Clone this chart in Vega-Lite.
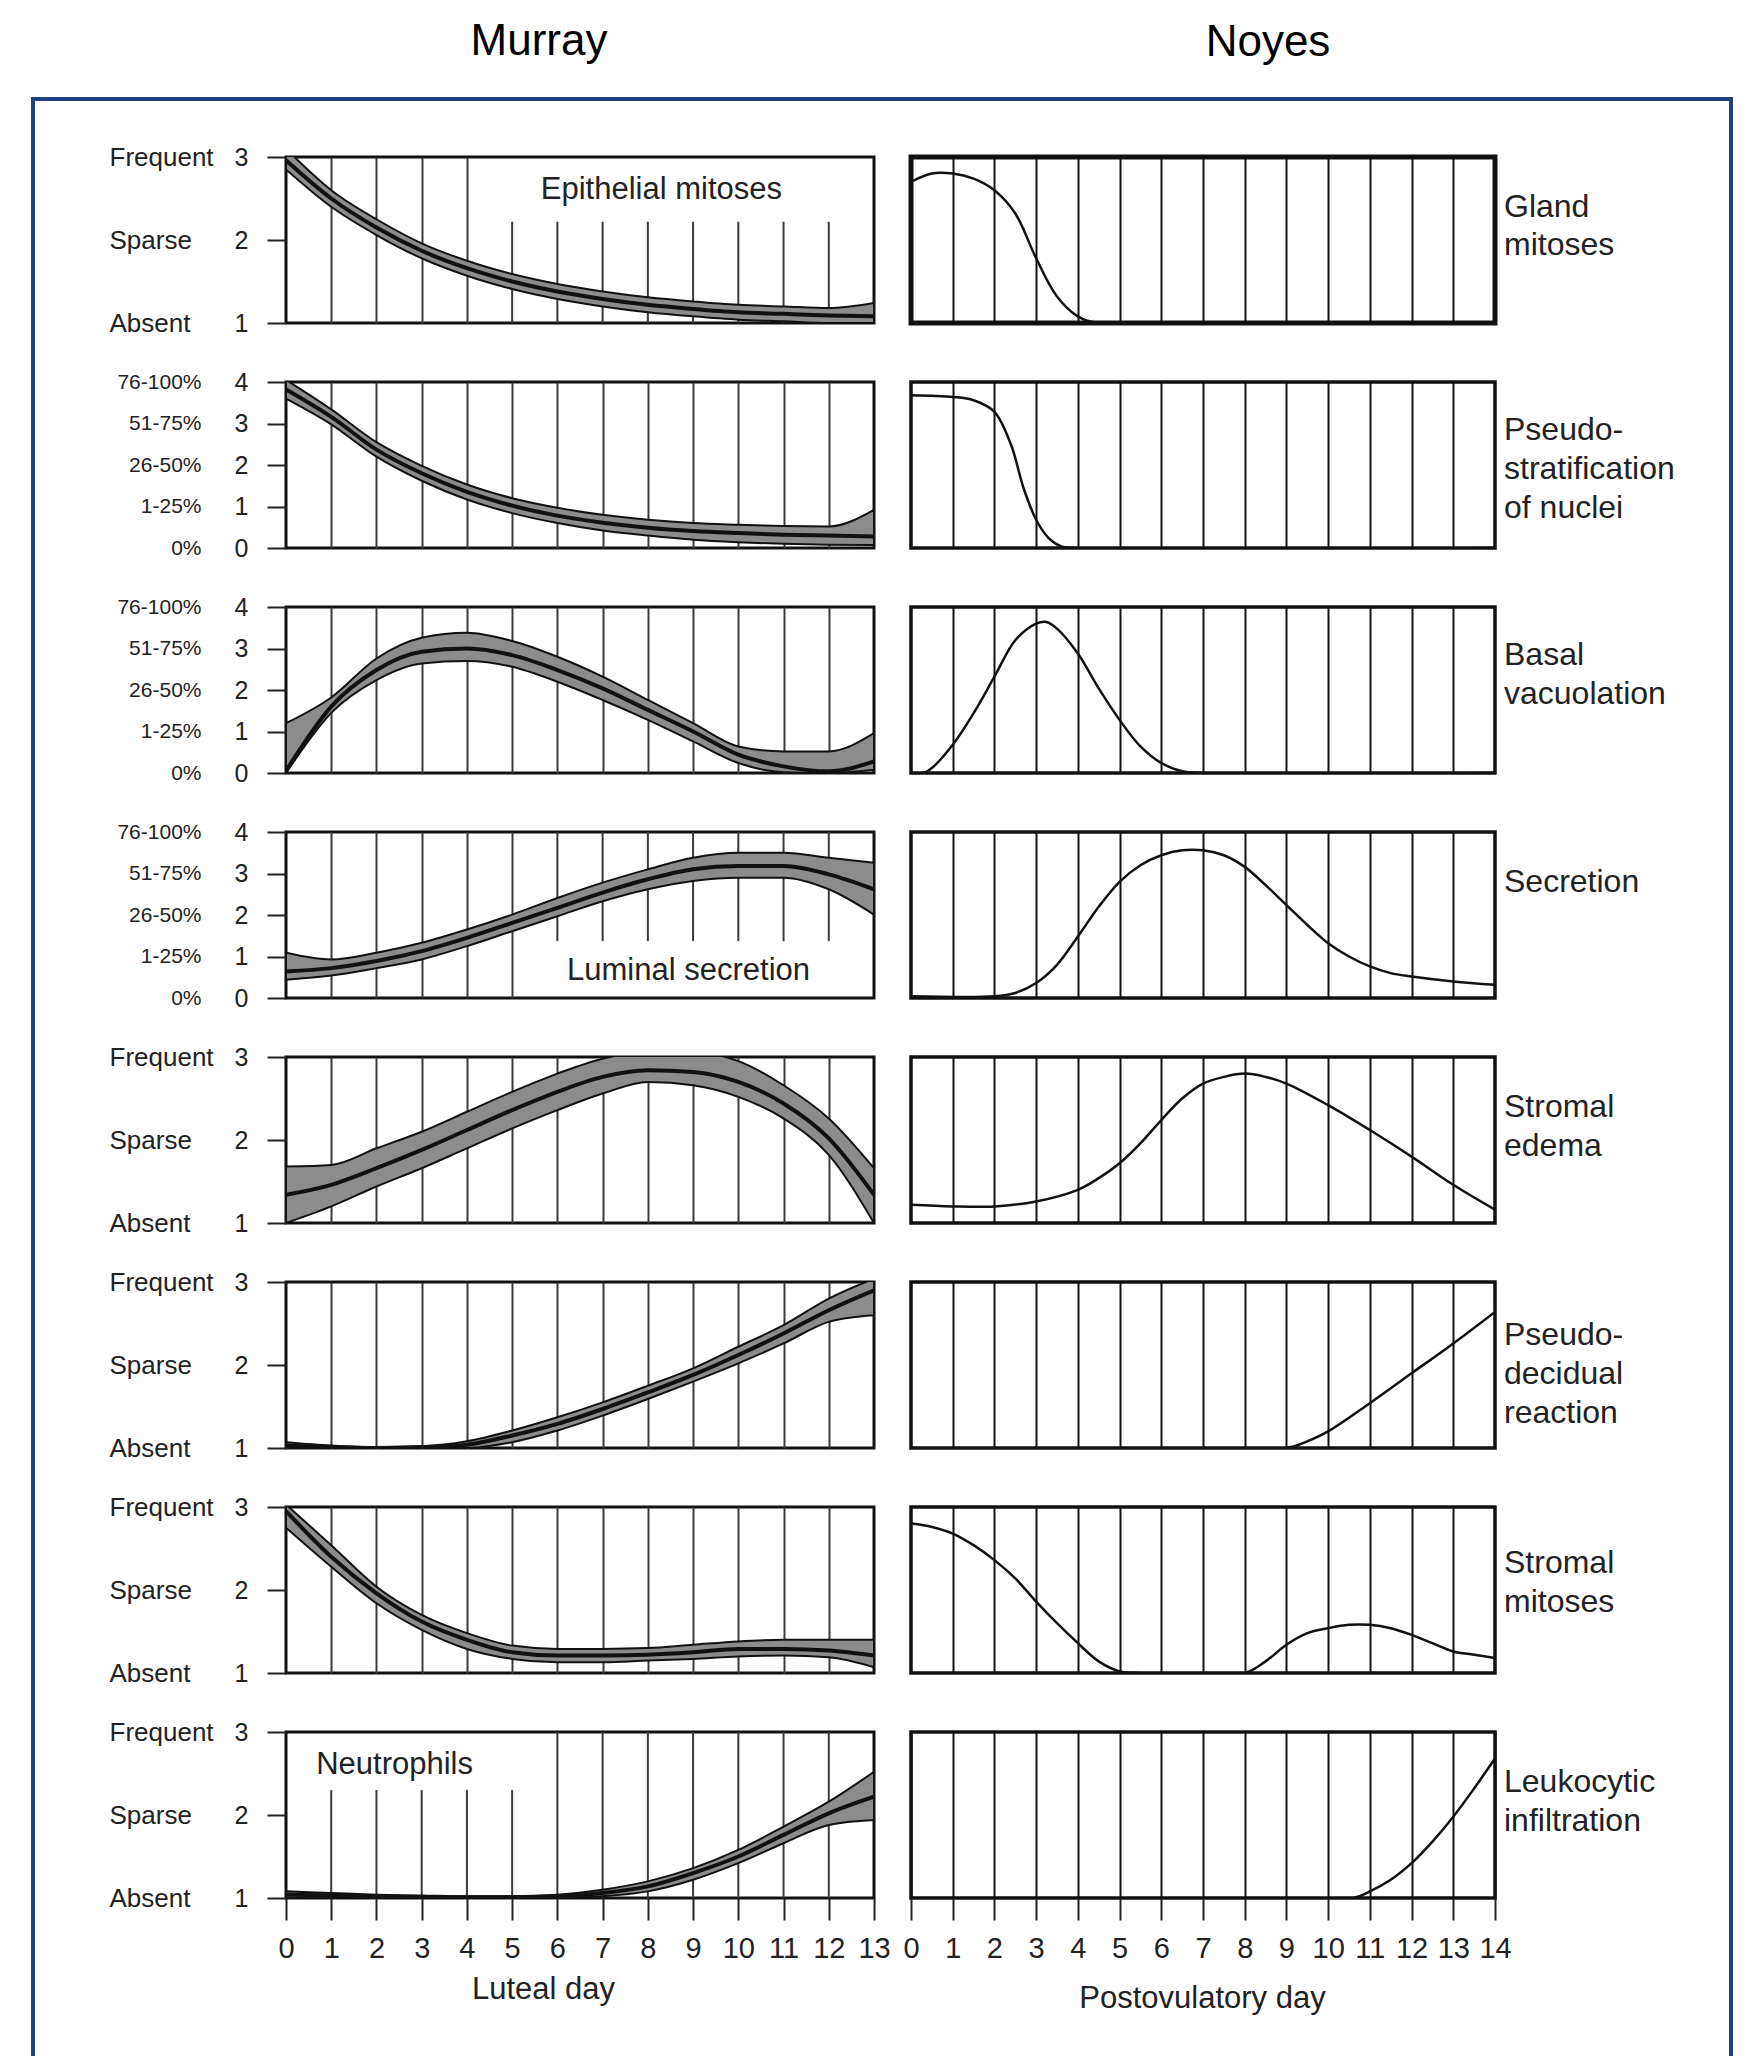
{
"$schema": "https://vega.github.io/schema/vega-lite/v6.json",
"background": "white",
"padding": {"left": 31, "top": 18, "right": 0, "bottom": 0},
"config": {"font": "Liberation Sans", "view": {"stroke": null}, "axis": {"labelFont": "Liberation Sans", "titleFont": "Liberation Sans"}},
"datasets": {
"murray": [
{"p":1,"d":0,"lo":2.85,"m":2.96,"hi":3.1},{"p":1,"d":1,"lo":2.4,"m":2.5,"hi":2.6},{"p":1,"d":2,"lo":2.06,"m":2.15,"hi":2.25},{"p":1,"d":3,"lo":1.78,"m":1.87,"hi":1.96},{"p":1,"d":4,"lo":1.57,"m":1.66,"hi":1.75},{"p":1,"d":5,"lo":1.41,"m":1.5,"hi":1.59},{"p":1,"d":6,"lo":1.29,"m":1.38,"hi":1.47},{"p":1,"d":7,"lo":1.2,"m":1.29,"hi":1.38},{"p":1,"d":8,"lo":1.13,"m":1.22,"hi":1.31},{"p":1,"d":9,"lo":1.08,"m":1.17,"hi":1.26},{"p":1,"d":10,"lo":1.04,"m":1.13,"hi":1.22},{"p":1,"d":11,"lo":1.02,"m":1.11,"hi":1.2},{"p":1,"d":12,"lo":1.0,"m":1.09,"hi":1.18},{"p":1,"d":13,"lo":1.0,"m":1.08,"hi":1.24},
{"p":2,"d":0,"lo":3.6,"m":3.82,"hi":4.05},{"p":2,"d":1,"lo":2.98,"m":3.16,"hi":3.34},{"p":2,"d":2,"lo":2.2,"m":2.37,"hi":2.55},{"p":2,"d":3,"lo":1.62,"m":1.8,"hi":1.98},{"p":2,"d":4,"lo":1.17,"m":1.35,"hi":1.53},{"p":2,"d":5,"lo":0.84,"m":1.02,"hi":1.2},{"p":2,"d":6,"lo":0.6,"m":0.78,"hi":0.97},{"p":2,"d":7,"lo":0.42,"m":0.61,"hi":0.8},{"p":2,"d":8,"lo":0.3,"m":0.49,"hi":0.68},{"p":2,"d":9,"lo":0.2,"m":0.41,"hi":0.6},{"p":2,"d":10,"lo":0.14,"m":0.36,"hi":0.56},{"p":2,"d":11,"lo":0.1,"m":0.32,"hi":0.53},{"p":2,"d":12,"lo":0.08,"m":0.3,"hi":0.52},{"p":2,"d":13,"lo":0.07,"m":0.28,"hi":0.92},
{"p":3,"d":0,"lo":0.0,"m":0.05,"hi":1.2},{"p":3,"d":1,"lo":1.45,"m":1.6,"hi":1.82},{"p":3,"d":2,"lo":2.24,"m":2.48,"hi":2.76},{"p":3,"d":3,"lo":2.64,"m":2.92,"hi":3.26},{"p":3,"d":4,"lo":2.7,"m":3.0,"hi":3.38},{"p":3,"d":5,"lo":2.56,"m":2.84,"hi":3.18},{"p":3,"d":6,"lo":2.2,"m":2.48,"hi":2.8},{"p":3,"d":7,"lo":1.76,"m":2.04,"hi":2.32},{"p":3,"d":8,"lo":1.28,"m":1.52,"hi":1.76},{"p":3,"d":9,"lo":0.76,"m":1.0,"hi":1.2},{"p":3,"d":10,"lo":0.24,"m":0.44,"hi":0.64},{"p":3,"d":11,"lo":0.02,"m":0.16,"hi":0.52},{"p":3,"d":12,"lo":0.0,"m":0.04,"hi":0.52},{"p":3,"d":13,"lo":0.08,"m":0.28,"hi":0.96},
{"p":4,"d":0,"lo":0.44,"m":0.64,"hi":1.09},{"p":4,"d":1,"lo":0.54,"m":0.72,"hi":0.93},{"p":4,"d":2,"lo":0.72,"m":0.89,"hi":1.09},{"p":4,"d":3,"lo":0.93,"m":1.13,"hi":1.33},{"p":4,"d":4,"lo":1.25,"m":1.45,"hi":1.65},{"p":4,"d":5,"lo":1.61,"m":1.81,"hi":2.01},{"p":4,"d":6,"lo":1.97,"m":2.17,"hi":2.41},{"p":4,"d":7,"lo":2.33,"m":2.54,"hi":2.78},{"p":4,"d":8,"lo":2.62,"m":2.86,"hi":3.1},{"p":4,"d":9,"lo":2.82,"m":3.1,"hi":3.38},{"p":4,"d":10,"lo":2.9,"m":3.18,"hi":3.5},{"p":4,"d":11,"lo":2.9,"m":3.18,"hi":3.5},{"p":4,"d":12,"lo":2.62,"m":2.98,"hi":3.38},{"p":4,"d":13,"lo":2.01,"m":2.62,"hi":3.26},
{"p":5,"d":0,"lo":1.0,"m":1.34,"hi":1.68},{"p":5,"d":1,"lo":1.2,"m":1.46,"hi":1.7},{"p":5,"d":2,"lo":1.44,"m":1.66,"hi":1.9},{"p":5,"d":3,"lo":1.66,"m":1.88,"hi":2.1},{"p":5,"d":4,"lo":1.9,"m":2.12,"hi":2.34},{"p":5,"d":5,"lo":2.14,"m":2.36,"hi":2.58},{"p":5,"d":6,"lo":2.36,"m":2.58,"hi":2.8},{"p":5,"d":7,"lo":2.56,"m":2.76,"hi":2.98},{"p":5,"d":8,"lo":2.7,"m":2.84,"hi":3.06},{"p":5,"d":9,"lo":2.66,"m":2.82,"hi":3.06},{"p":5,"d":10,"lo":2.52,"m":2.7,"hi":2.95},{"p":5,"d":11,"lo":2.26,"m":2.44,"hi":2.66},{"p":5,"d":12,"lo":1.82,"m":2.02,"hi":2.26},{"p":5,"d":13,"lo":1.0,"m":1.34,"hi":1.66},
{"p":6,"d":0,"lo":1.0,"m":1.03,"hi":1.07},{"p":6,"d":1,"lo":1.0,"m":1.01,"hi":1.03},{"p":6,"d":2,"lo":1.0,"m":1.0,"hi":1.01},{"p":6,"d":3,"lo":1.0,"m":1.01,"hi":1.02},{"p":6,"d":4,"lo":1.0,"m":1.04,"hi":1.08},{"p":6,"d":5,"lo":1.07,"m":1.15,"hi":1.21},{"p":6,"d":6,"lo":1.21,"m":1.29,"hi":1.37},{"p":6,"d":7,"lo":1.39,"m":1.47,"hi":1.55},{"p":6,"d":8,"lo":1.59,"m":1.67,"hi":1.75},{"p":6,"d":9,"lo":1.8,"m":1.88,"hi":1.96},{"p":6,"d":10,"lo":2.02,"m":2.12,"hi":2.22},{"p":6,"d":11,"lo":2.26,"m":2.38,"hi":2.48},{"p":6,"d":12,"lo":2.52,"m":2.66,"hi":2.8},{"p":6,"d":13,"lo":2.6,"m":2.9,"hi":3.04},
{"p":7,"d":0,"lo":2.75,"m":2.95,"hi":3.03},{"p":7,"d":1,"lo":2.28,"m":2.4,"hi":2.54},{"p":7,"d":2,"lo":1.84,"m":1.96,"hi":2.04},{"p":7,"d":3,"lo":1.52,"m":1.62,"hi":1.7},{"p":7,"d":4,"lo":1.29,"m":1.4,"hi":1.48},{"p":7,"d":5,"lo":1.17,"m":1.25,"hi":1.33},{"p":7,"d":6,"lo":1.13,"m":1.21,"hi":1.29},{"p":7,"d":7,"lo":1.13,"m":1.21,"hi":1.29},{"p":7,"d":8,"lo":1.15,"m":1.22,"hi":1.3},{"p":7,"d":9,"lo":1.17,"m":1.25,"hi":1.34},{"p":7,"d":10,"lo":1.2,"m":1.29,"hi":1.38},{"p":7,"d":11,"lo":1.21,"m":1.29,"hi":1.4},{"p":7,"d":12,"lo":1.19,"m":1.27,"hi":1.4},{"p":7,"d":13,"lo":1.07,"m":1.21,"hi":1.4},
{"p":8,"d":0,"lo":1.0,"m":1.04,"hi":1.08},{"p":8,"d":1,"lo":1.0,"m":1.03,"hi":1.06},{"p":8,"d":2,"lo":1.0,"m":1.02,"hi":1.04},{"p":8,"d":3,"lo":1.0,"m":1.01,"hi":1.03},{"p":8,"d":4,"lo":1.0,"m":1.01,"hi":1.02},{"p":8,"d":5,"lo":1.0,"m":1.01,"hi":1.02},{"p":8,"d":6,"lo":1.0,"m":1.02,"hi":1.04},{"p":8,"d":7,"lo":1.02,"m":1.06,"hi":1.1},{"p":8,"d":8,"lo":1.08,"m":1.14,"hi":1.2},{"p":8,"d":9,"lo":1.22,"m":1.3,"hi":1.36},{"p":8,"d":10,"lo":1.42,"m":1.5,"hi":1.58},{"p":8,"d":11,"lo":1.66,"m":1.76,"hi":1.86},{"p":8,"d":12,"lo":1.88,"m":2.02,"hi":2.16},{"p":8,"d":13,"lo":1.94,"m":2.22,"hi":2.52}
],
"noyes": [
{"p":1,"d":0,"v":0.85},{"p":1,"d":0.5,"v":0.9},{"p":1,"d":1,"v":0.9},{"p":1,"d":1.5,"v":0.87},{"p":1,"d":2,"v":0.8},{"p":1,"d":2.5,"v":0.66},{"p":1,"d":3,"v":0.39},{"p":1,"d":3.5,"v":0.16},{"p":1,"d":4,"v":0.04},{"p":1,"d":4.5,"v":0},{"p":1,"d":14,"v":0},
{"p":2,"d":0,"v":0.92},{"p":2,"d":1,"v":0.91},{"p":2,"d":1.5,"v":0.89},{"p":2,"d":2,"v":0.82},{"p":2,"d":2.4,"v":0.62},{"p":2,"d":2.7,"v":0.36},{"p":2,"d":3,"v":0.17},{"p":2,"d":3.3,"v":0.06},{"p":2,"d":3.6,"v":0.01},{"p":2,"d":4,"v":0},{"p":2,"d":14,"v":0},
{"p":3,"d":0,"v":0},{"p":3,"d":0.3,"v":0},{"p":3,"d":0.5,"v":0.03},{"p":3,"d":1,"v":0.17},{"p":3,"d":1.5,"v":0.36},{"p":3,"d":2,"v":0.58},{"p":3,"d":2.5,"v":0.8},{"p":3,"d":3,"v":0.9},{"p":3,"d":3.25,"v":0.91},{"p":3,"d":3.5,"v":0.87},{"p":3,"d":4,"v":0.72},{"p":3,"d":4.5,"v":0.51},{"p":3,"d":5,"v":0.32},{"p":3,"d":5.5,"v":0.16},{"p":3,"d":6,"v":0.06},{"p":3,"d":6.5,"v":0.01},{"p":3,"d":7,"v":0},{"p":3,"d":14,"v":0},
{"p":4,"d":0,"v":0.01},{"p":4,"d":2,"v":0.01},{"p":4,"d":2.5,"v":0.03},{"p":4,"d":3,"v":0.09},{"p":4,"d":3.5,"v":0.2},{"p":4,"d":4,"v":0.37},{"p":4,"d":4.5,"v":0.55},{"p":4,"d":5,"v":0.7},{"p":4,"d":5.5,"v":0.8},{"p":4,"d":6,"v":0.86},{"p":4,"d":6.5,"v":0.89},{"p":4,"d":7,"v":0.89},{"p":4,"d":7.5,"v":0.86},{"p":4,"d":8,"v":0.79},{"p":4,"d":8.5,"v":0.68},{"p":4,"d":9,"v":0.56},{"p":4,"d":9.5,"v":0.44},{"p":4,"d":10,"v":0.33},{"p":4,"d":10.5,"v":0.25},{"p":4,"d":11,"v":0.19},{"p":4,"d":11.5,"v":0.15},{"p":4,"d":12,"v":0.13},{"p":4,"d":13,"v":0.1},{"p":4,"d":14,"v":0.08},
{"p":5,"d":0,"v":0.11},{"p":5,"d":1,"v":0.1},{"p":5,"d":2,"v":0.1},{"p":5,"d":3,"v":0.13},{"p":5,"d":4,"v":0.2},{"p":5,"d":4.5,"v":0.27},{"p":5,"d":5,"v":0.36},{"p":5,"d":5.5,"v":0.48},{"p":5,"d":6,"v":0.62},{"p":5,"d":6.5,"v":0.75},{"p":5,"d":7,"v":0.84},{"p":5,"d":7.5,"v":0.88},{"p":5,"d":8,"v":0.9},{"p":5,"d":8.5,"v":0.88},{"p":5,"d":9,"v":0.84},{"p":5,"d":10,"v":0.71},{"p":5,"d":11,"v":0.56},{"p":5,"d":12,"v":0.4},{"p":5,"d":13,"v":0.23},{"p":5,"d":14,"v":0.08},
{"p":6,"d":0,"v":0},{"p":6,"d":9,"v":0},{"p":6,"d":9.5,"v":0.04},{"p":6,"d":10,"v":0.1},{"p":6,"d":11,"v":0.27},{"p":6,"d":12,"v":0.45},{"p":6,"d":13,"v":0.63},{"p":6,"d":14,"v":0.82},
{"p":7,"d":0,"v":0.9},{"p":7,"d":0.5,"v":0.88},{"p":7,"d":1,"v":0.84},{"p":7,"d":1.5,"v":0.77},{"p":7,"d":2,"v":0.68},{"p":7,"d":2.5,"v":0.57},{"p":7,"d":3,"v":0.43},{"p":7,"d":3.5,"v":0.3},{"p":7,"d":4,"v":0.18},{"p":7,"d":4.5,"v":0.07},{"p":7,"d":5,"v":0.01},{"p":7,"d":5.5,"v":0},{"p":7,"d":8,"v":0},{"p":7,"d":8.5,"v":0.07},{"p":7,"d":9,"v":0.17},{"p":7,"d":9.5,"v":0.24},{"p":7,"d":10,"v":0.27},{"p":7,"d":10.5,"v":0.29},{"p":7,"d":11,"v":0.29},{"p":7,"d":11.5,"v":0.27},{"p":7,"d":12,"v":0.23},{"p":7,"d":12.5,"v":0.18},{"p":7,"d":13,"v":0.13},{"p":7,"d":13.5,"v":0.11},{"p":7,"d":14,"v":0.09},
{"p":8,"d":0,"v":0},{"p":8,"d":10.6,"v":0},{"p":8,"d":11,"v":0.04},{"p":8,"d":11.5,"v":0.11},{"p":8,"d":12,"v":0.21},{"p":8,"d":12.5,"v":0.34},{"p":8,"d":13,"v":0.49},{"p":8,"d":13.5,"v":0.66},{"p":8,"d":14,"v":0.84}
],
"g1": [{"d":5},{"d":6},{"d":7},{"d":8},{"d":9},{"d":10},{"d":11},{"d":12}],
"g4": [{"d":6},{"d":7},{"d":8},{"d":9},{"d":10},{"d":11},{"d":12}],
"g8a": [{"d":1},{"d":2},{"d":3},{"d":4},{"d":5}],
"g8b": [{"d":6},{"d":7},{"d":8},{"d":9},{"d":10},{"d":11},{"d":12}]
},
"bounds": "flush",
"spacing": 0,
"vconcat": [
{"width": 1702, "height": 4, "view": {"stroke": null, "fill": "#1f3f7f"}, "data": {"values": [{}]}, "mark": {"type": "text"}, "encoding": {"text": {"value": ""}}},
{"bounds": "flush", "spacing": 251, "hconcat": [
{"width": 4, "height": 1966, "view": {"stroke": null, "fill": "#1f3f7f"}, "data": {"values": [{}]}, "mark": {"type": "text"}, "encoding": {"text": {"value": ""}}},
{"bounds": "flush", "spacing": 1443, "hconcat": [
{"bounds": "flush", "spacing": 55, "vconcat": [
{"width": 1, "height": 1, "view": {"stroke": null}, "data": {"values": [{}]}, "mark": {"type": "text"}, "encoding": {"text": {"value": ""}}},
{"bounds": "flush", "spacing": 625, "hconcat": [
{"bounds": "flush", "spacing": 59, "vconcat": [
{"width": 588, "height": 166, "view": {"stroke": "#111", "strokeWidth": 3},
 "title": {"text": "Murray", "fontSize": 44, "fontWeight": "normal", "color": "#000", "anchor": "middle", "frame": "group", "dx": -41, "offset": 45, "baseline": "alphabetic"},
 "layer": [
  {"data": {"name": "g1"}, "mark": {"type": "rule", "color": "#3a3a3a", "strokeWidth": 2}, "encoding": {"x": {"field": "d", "type": "quantitative", "axis": null}, "y": {"datum": 1, "type": "quantitative", "axis": null}, "y2": {"datum": 2.22}}},
  {"data": {"name": "murray"}, "transform": [{"filter": "datum.p == 1"}], "mark": {"type": "area", "interpolate": "monotone", "fill": "#8c8c8c", "stroke": "#111", "strokeWidth": 2, "clip": true},
   "encoding": {"x": {"field": "d", "type": "quantitative", "scale": {"domain": [0, 13], "nice": false, "zero": false}, "axis": {"values": [1,2,3,4], "grid": true, "gridColor": "#3a3a3a", "gridWidth": 2, "labels": false, "ticks": false, "domain": false, "title": null}},
    "y": {"field": "lo", "type": "quantitative", "scale": {"domain": [1, 3], "nice": false, "zero": false}, "axis": {"orient": "left", "values": [1,2,3], "labelExpr": "'' + datum.value", "tickSize": 19, "tickWidth": 2, "tickColor": "#222", "domain": false, "grid": false, "labelPadding": 19, "labelFontSize": 25, "labelColor": "#222", "labelOverlap": false, "title": null}},
    "y2": {"field": "hi"}}},
  {"data": {"name": "murray"}, "transform": [{"filter": "datum.p == 1"}], "mark": {"type": "line", "interpolate": "monotone", "color": "#111", "strokeWidth": 4, "clip": true},
   "encoding": {"x": {"field": "d", "type": "quantitative", "axis": null}, "y": {"field": "m", "type": "quantitative", "axis": {"orient": "left", "values": [1,2,3], "labelExpr": "datum.value == 3 ? 'Frequent' : datum.value == 2 ? 'Sparse' : 'Absent'", "ticks": false, "tickSize": 0, "domain": false, "grid": false, "labelPadding": 177, "labelAlign": "left", "labelFontSize": 26, "labelColor": "#222", "labelOverlap": false, "title": null}}}},
  {"data": {"values": [{"t": "Epithelial mitoses"}]}, "mark": {"type": "text", "fontSize": 31, "align": "center", "baseline": "alphabetic", "color": "#222"}, "encoding": {"x": {"datum": 8.3, "type": "quantitative", "axis": null}, "y": {"datum": 2.5, "type": "quantitative", "axis": null}, "text": {"field": "t"}}}
 ],
 "resolve": {"axis": {"x": "independent", "y": "independent"}}},
{"width": 588, "height": 166, "view": {"stroke": "#111", "strokeWidth": 3},
 "layer": [
  {"data": {"name": "murray"}, "transform": [{"filter": "datum.p == 2"}], "mark": {"type": "area", "interpolate": "monotone", "fill": "#8c8c8c", "stroke": "#111", "strokeWidth": 2, "clip": true},
   "encoding": {"x": {"field": "d", "type": "quantitative", "scale": {"domain": [0, 13], "nice": false, "zero": false}, "axis": {"values": [1,2,3,4,5,6,7,8,9,10,11,12], "grid": true, "gridColor": "#3a3a3a", "gridWidth": 2, "labels": false, "ticks": false, "domain": false, "title": null}},
    "y": {"field": "lo", "type": "quantitative", "scale": {"domain": [0, 4], "nice": false, "zero": false}, "axis": {"orient": "left", "values": [0,1,2,3,4], "labelExpr": "'' + datum.value", "tickSize": 19, "tickWidth": 2, "tickColor": "#222", "domain": false, "grid": false, "labelPadding": 19, "labelFontSize": 25, "labelColor": "#222", "labelOverlap": false, "title": null}},
    "y2": {"field": "hi"}}},
  {"data": {"name": "murray"}, "transform": [{"filter": "datum.p == 2"}], "mark": {"type": "line", "interpolate": "monotone", "color": "#111", "strokeWidth": 4, "clip": true},
   "encoding": {"x": {"field": "d", "type": "quantitative", "axis": null}, "y": {"field": "m", "type": "quantitative", "axis": {"orient": "left", "values": [0,1,2,3,4], "labelExpr": "['0%','1-25%','26-50%','51-75%','76-100%'][datum.value]", "ticks": false, "tickSize": 0, "domain": false, "grid": false, "labelPadding": 85, "labelAlign": "right", "labelFontSize": 21, "labelColor": "#222", "labelOverlap": false, "title": null}}}}
 ],
 "resolve": {"axis": {"x": "independent", "y": "independent"}}},
{"width": 588, "height": 166, "view": {"stroke": "#111", "strokeWidth": 3},
 "layer": [
  {"data": {"name": "murray"}, "transform": [{"filter": "datum.p == 3"}], "mark": {"type": "area", "interpolate": "monotone", "fill": "#8c8c8c", "stroke": "#111", "strokeWidth": 2, "clip": true},
   "encoding": {"x": {"field": "d", "type": "quantitative", "scale": {"domain": [0, 13], "nice": false, "zero": false}, "axis": {"values": [1,2,3,4,5,6,7,8,9,10,11,12], "grid": true, "gridColor": "#3a3a3a", "gridWidth": 2, "labels": false, "ticks": false, "domain": false, "title": null}},
    "y": {"field": "lo", "type": "quantitative", "scale": {"domain": [0, 4], "nice": false, "zero": false}, "axis": {"orient": "left", "values": [0,1,2,3,4], "labelExpr": "'' + datum.value", "tickSize": 19, "tickWidth": 2, "tickColor": "#222", "domain": false, "grid": false, "labelPadding": 19, "labelFontSize": 25, "labelColor": "#222", "labelOverlap": false, "title": null}},
    "y2": {"field": "hi"}}},
  {"data": {"name": "murray"}, "transform": [{"filter": "datum.p == 3"}], "mark": {"type": "line", "interpolate": "monotone", "color": "#111", "strokeWidth": 4, "clip": true},
   "encoding": {"x": {"field": "d", "type": "quantitative", "axis": null}, "y": {"field": "m", "type": "quantitative", "axis": {"orient": "left", "values": [0,1,2,3,4], "labelExpr": "['0%','1-25%','26-50%','51-75%','76-100%'][datum.value]", "ticks": false, "tickSize": 0, "domain": false, "grid": false, "labelPadding": 85, "labelAlign": "right", "labelFontSize": 21, "labelColor": "#222", "labelOverlap": false, "title": null}}}}
 ],
 "resolve": {"axis": {"x": "independent", "y": "independent"}}},
{"width": 588, "height": 166, "view": {"stroke": "#111", "strokeWidth": 3},
 "layer": [
  {"data": {"name": "g4"}, "mark": {"type": "rule", "color": "#3a3a3a", "strokeWidth": 2}, "encoding": {"x": {"field": "d", "type": "quantitative", "axis": null}, "y": {"datum": 1.37, "type": "quantitative", "axis": null}, "y2": {"datum": 4}}},
  {"data": {"name": "murray"}, "transform": [{"filter": "datum.p == 4"}], "mark": {"type": "area", "interpolate": "monotone", "fill": "#8c8c8c", "stroke": "#111", "strokeWidth": 2, "clip": true},
   "encoding": {"x": {"field": "d", "type": "quantitative", "scale": {"domain": [0, 13], "nice": false, "zero": false}, "axis": {"values": [1,2,3,4,5], "grid": true, "gridColor": "#3a3a3a", "gridWidth": 2, "labels": false, "ticks": false, "domain": false, "title": null}},
    "y": {"field": "lo", "type": "quantitative", "scale": {"domain": [0, 4], "nice": false, "zero": false}, "axis": {"orient": "left", "values": [0,1,2,3,4], "labelExpr": "'' + datum.value", "tickSize": 19, "tickWidth": 2, "tickColor": "#222", "domain": false, "grid": false, "labelPadding": 19, "labelFontSize": 25, "labelColor": "#222", "labelOverlap": false, "title": null}},
    "y2": {"field": "hi"}}},
  {"data": {"name": "murray"}, "transform": [{"filter": "datum.p == 4"}], "mark": {"type": "line", "interpolate": "monotone", "color": "#111", "strokeWidth": 4, "clip": true},
   "encoding": {"x": {"field": "d", "type": "quantitative", "axis": null}, "y": {"field": "m", "type": "quantitative", "axis": {"orient": "left", "values": [0,1,2,3,4], "labelExpr": "['0%','1-25%','26-50%','51-75%','76-100%'][datum.value]", "ticks": false, "tickSize": 0, "domain": false, "grid": false, "labelPadding": 85, "labelAlign": "right", "labelFontSize": 21, "labelColor": "#222", "labelOverlap": false, "title": null}}}},
  {"data": {"values": [{"t": "Luminal secretion"}]}, "mark": {"type": "text", "fontSize": 31, "align": "center", "baseline": "alphabetic", "color": "#222"}, "encoding": {"x": {"datum": 8.9, "type": "quantitative", "axis": null}, "y": {"datum": 0.43, "type": "quantitative", "axis": null}, "text": {"field": "t"}}}
 ],
 "resolve": {"axis": {"x": "independent", "y": "independent"}}},
{"width": 588, "height": 166, "view": {"stroke": "#111", "strokeWidth": 3},
 "layer": [
  {"data": {"name": "murray"}, "transform": [{"filter": "datum.p == 5"}], "mark": {"type": "area", "interpolate": "monotone", "fill": "#8c8c8c", "stroke": "#111", "strokeWidth": 2, "clip": true},
   "encoding": {"x": {"field": "d", "type": "quantitative", "scale": {"domain": [0, 13], "nice": false, "zero": false}, "axis": {"values": [1,2,3,4,5,6,7,8,9,10,11,12], "grid": true, "gridColor": "#3a3a3a", "gridWidth": 2, "labels": false, "ticks": false, "domain": false, "title": null}},
    "y": {"field": "lo", "type": "quantitative", "scale": {"domain": [1, 3], "nice": false, "zero": false}, "axis": {"orient": "left", "values": [1,2,3], "labelExpr": "'' + datum.value", "tickSize": 19, "tickWidth": 2, "tickColor": "#222", "domain": false, "grid": false, "labelPadding": 19, "labelFontSize": 25, "labelColor": "#222", "labelOverlap": false, "title": null}},
    "y2": {"field": "hi"}}},
  {"data": {"name": "murray"}, "transform": [{"filter": "datum.p == 5"}], "mark": {"type": "line", "interpolate": "monotone", "color": "#111", "strokeWidth": 4, "clip": true},
   "encoding": {"x": {"field": "d", "type": "quantitative", "axis": null}, "y": {"field": "m", "type": "quantitative", "axis": {"orient": "left", "values": [1,2,3], "labelExpr": "datum.value == 3 ? 'Frequent' : datum.value == 2 ? 'Sparse' : 'Absent'", "ticks": false, "tickSize": 0, "domain": false, "grid": false, "labelPadding": 177, "labelAlign": "left", "labelFontSize": 26, "labelColor": "#222", "labelOverlap": false, "title": null}}}}
 ],
 "resolve": {"axis": {"x": "independent", "y": "independent"}}},
{"width": 588, "height": 166, "view": {"stroke": "#111", "strokeWidth": 3},
 "layer": [
  {"data": {"name": "murray"}, "transform": [{"filter": "datum.p == 6"}], "mark": {"type": "area", "interpolate": "monotone", "fill": "#8c8c8c", "stroke": "#111", "strokeWidth": 2, "clip": true},
   "encoding": {"x": {"field": "d", "type": "quantitative", "scale": {"domain": [0, 13], "nice": false, "zero": false}, "axis": {"values": [1,2,3,4,5,6,7,8,9,10,11,12], "grid": true, "gridColor": "#3a3a3a", "gridWidth": 2, "labels": false, "ticks": false, "domain": false, "title": null}},
    "y": {"field": "lo", "type": "quantitative", "scale": {"domain": [1, 3], "nice": false, "zero": false}, "axis": {"orient": "left", "values": [1,2,3], "labelExpr": "'' + datum.value", "tickSize": 19, "tickWidth": 2, "tickColor": "#222", "domain": false, "grid": false, "labelPadding": 19, "labelFontSize": 25, "labelColor": "#222", "labelOverlap": false, "title": null}},
    "y2": {"field": "hi"}}},
  {"data": {"name": "murray"}, "transform": [{"filter": "datum.p == 6"}], "mark": {"type": "line", "interpolate": "monotone", "color": "#111", "strokeWidth": 4, "clip": true},
   "encoding": {"x": {"field": "d", "type": "quantitative", "axis": null}, "y": {"field": "m", "type": "quantitative", "axis": {"orient": "left", "values": [1,2,3], "labelExpr": "datum.value == 3 ? 'Frequent' : datum.value == 2 ? 'Sparse' : 'Absent'", "ticks": false, "tickSize": 0, "domain": false, "grid": false, "labelPadding": 177, "labelAlign": "left", "labelFontSize": 26, "labelColor": "#222", "labelOverlap": false, "title": null}}}}
 ],
 "resolve": {"axis": {"x": "independent", "y": "independent"}}},
{"width": 588, "height": 166, "view": {"stroke": "#111", "strokeWidth": 3},
 "layer": [
  {"data": {"name": "murray"}, "transform": [{"filter": "datum.p == 7"}], "mark": {"type": "area", "interpolate": "monotone", "fill": "#8c8c8c", "stroke": "#111", "strokeWidth": 2, "clip": true},
   "encoding": {"x": {"field": "d", "type": "quantitative", "scale": {"domain": [0, 13], "nice": false, "zero": false}, "axis": {"values": [1,2,3,4,5,6,7,8,9,10,11,12], "grid": true, "gridColor": "#3a3a3a", "gridWidth": 2, "labels": false, "ticks": false, "domain": false, "title": null}},
    "y": {"field": "lo", "type": "quantitative", "scale": {"domain": [1, 3], "nice": false, "zero": false}, "axis": {"orient": "left", "values": [1,2,3], "labelExpr": "'' + datum.value", "tickSize": 19, "tickWidth": 2, "tickColor": "#222", "domain": false, "grid": false, "labelPadding": 19, "labelFontSize": 25, "labelColor": "#222", "labelOverlap": false, "title": null}},
    "y2": {"field": "hi"}}},
  {"data": {"name": "murray"}, "transform": [{"filter": "datum.p == 7"}], "mark": {"type": "line", "interpolate": "monotone", "color": "#111", "strokeWidth": 4, "clip": true},
   "encoding": {"x": {"field": "d", "type": "quantitative", "axis": null}, "y": {"field": "m", "type": "quantitative", "axis": {"orient": "left", "values": [1,2,3], "labelExpr": "datum.value == 3 ? 'Frequent' : datum.value == 2 ? 'Sparse' : 'Absent'", "ticks": false, "tickSize": 0, "domain": false, "grid": false, "labelPadding": 177, "labelAlign": "left", "labelFontSize": 26, "labelColor": "#222", "labelOverlap": false, "title": null}}}}
 ],
 "resolve": {"axis": {"x": "independent", "y": "independent"}}},
{"width": 588, "height": 166, "view": {"stroke": "#111", "strokeWidth": 3},
 "layer": [
  {"data": {"name": "g8a"}, "mark": {"type": "rule", "color": "#3a3a3a", "strokeWidth": 2}, "encoding": {"x": {"field": "d", "type": "quantitative", "axis": null}, "y": {"datum": 1, "type": "quantitative", "axis": null}, "y2": {"datum": 2.3}}},
  {"data": {"name": "g8b"}, "mark": {"type": "rule", "color": "#3a3a3a", "strokeWidth": 2}, "encoding": {"x": {"field": "d", "type": "quantitative", "axis": null}, "y": {"datum": 1, "type": "quantitative", "axis": null}, "y2": {"datum": 3}}},
  {"data": {"name": "murray"}, "transform": [{"filter": "datum.p == 8"}], "mark": {"type": "area", "interpolate": "monotone", "fill": "#8c8c8c", "stroke": "#111", "strokeWidth": 2, "clip": true},
   "encoding": {"x": {"field": "d", "type": "quantitative", "scale": {"domain": [0, 13], "nice": false, "zero": false}, "axis": {"orient": "bottom", "values": [0,1,2,3,4,5,6,7,8,9,10,11,12,13], "labelExpr": "'' + datum.value", "grid": false, "ticks": true, "tickSize": 22, "tickWidth": 2, "tickColor": "#222", "domain": false, "labelFontSize": 29, "labelPadding": 37, "labelBaseline": "alphabetic", "labelFlush": false, "labelOverlap": false, "labelColor": "#222", "title": "Luteal day", "titleFontSize": 31, "titleFontWeight": "normal", "titleColor": "#222", "titleX": 257, "titleY": 100, "titleBaseline": "alphabetic", "titleAlign": "center"}},
    "y": {"field": "lo", "type": "quantitative", "scale": {"domain": [1, 3], "nice": false, "zero": false}, "axis": {"orient": "left", "values": [1,2,3], "labelExpr": "'' + datum.value", "tickSize": 19, "tickWidth": 2, "tickColor": "#222", "domain": false, "grid": false, "labelPadding": 19, "labelFontSize": 25, "labelColor": "#222", "labelOverlap": false, "title": null}},
    "y2": {"field": "hi"}}},
  {"data": {"name": "murray"}, "transform": [{"filter": "datum.p == 8"}], "mark": {"type": "line", "interpolate": "monotone", "color": "#111", "strokeWidth": 4, "clip": true},
   "encoding": {"x": {"field": "d", "type": "quantitative", "axis": null}, "y": {"field": "m", "type": "quantitative", "axis": {"orient": "left", "values": [1,2,3], "labelExpr": "datum.value == 3 ? 'Frequent' : datum.value == 2 ? 'Sparse' : 'Absent'", "ticks": false, "tickSize": 0, "domain": false, "grid": false, "labelPadding": 177, "labelAlign": "left", "labelFontSize": 26, "labelColor": "#222", "labelOverlap": false, "title": null}}}},
  {"data": {"values": [{"t": "Neutrophils"}]}, "mark": {"type": "text", "fontSize": 31, "align": "center", "baseline": "alphabetic", "color": "#222"}, "encoding": {"x": {"datum": 2.4, "type": "quantitative", "axis": null}, "y": {"datum": 2.5, "type": "quantitative", "axis": null}, "text": {"field": "t"}}}
 ],
 "resolve": {"axis": {"x": "independent", "y": "independent"}}}
]},
{"bounds": "flush", "spacing": 59, "vconcat": [
{"width": 584, "height": 166, "view": {"stroke": "#111", "strokeWidth": 5},
 "title": {"text": "Noyes", "fontSize": 44, "fontWeight": "normal", "color": "#000", "anchor": "middle", "frame": "group", "dx": 65, "offset": 57, "baseline": "alphabetic"},
 "layer": [
  {"data": {"name": "noyes"}, "transform": [{"filter": "datum.p == 1"}], "mark": {"type": "line", "interpolate": "catmull-rom", "color": "#111", "strokeWidth": 2.5, "clip": true},
   "encoding": {"x": {"field": "d", "type": "quantitative", "scale": {"domain": [0, 14], "nice": false, "zero": false}, "axis": {"values": [1,2,3,4,5,6,7,8,9,10,11,12,13], "grid": true, "gridColor": "#111", "gridWidth": 2, "labels": false, "ticks": false, "domain": false, "title": null}},
    "y": {"field": "v", "type": "quantitative", "scale": {"domain": [0, 1], "nice": false, "zero": false}, "axis": null}}},
  {"data": {"values": [{"t": "Gland\nmitoses"}]}, "mark": {"type": "text", "align": "left", "baseline": "alphabetic", "lineBreak": "\n", "lineHeight": 38, "fontSize": 32, "dx": 9, "color": "#222"}, "encoding": {"x": {"datum": 14, "type": "quantitative", "axis": null}, "y": {"datum": 0.64, "type": "quantitative", "axis": null}, "text": {"field": "t"}}}
 ],
 "resolve": {"axis": {"x": "independent"}}},
{"width": 584, "height": 166, "view": {"stroke": "#111", "strokeWidth": 3.5},
 "layer": [
  {"data": {"name": "noyes"}, "transform": [{"filter": "datum.p == 2"}], "mark": {"type": "line", "interpolate": "catmull-rom", "color": "#111", "strokeWidth": 2.5, "clip": true},
   "encoding": {"x": {"field": "d", "type": "quantitative", "scale": {"domain": [0, 14], "nice": false, "zero": false}, "axis": {"values": [1,2,3,4,5,6,7,8,9,10,11,12,13], "grid": true, "gridColor": "#111", "gridWidth": 2, "labels": false, "ticks": false, "domain": false, "title": null}},
    "y": {"field": "v", "type": "quantitative", "scale": {"domain": [0, 1], "nice": false, "zero": false}, "axis": null}}},
  {"data": {"values": [{"t": "Pseudo-\nstratification\nof nuclei"}]}, "mark": {"type": "text", "align": "left", "baseline": "alphabetic", "lineBreak": "\n", "lineHeight": 39, "fontSize": 32, "dx": 9, "color": "#222"}, "encoding": {"x": {"datum": 14, "type": "quantitative", "axis": null}, "y": {"datum": 0.65, "type": "quantitative", "axis": null}, "text": {"field": "t"}}}
 ],
 "resolve": {"axis": {"x": "independent"}}},
{"width": 584, "height": 166, "view": {"stroke": "#111", "strokeWidth": 3.5},
 "layer": [
  {"data": {"name": "noyes"}, "transform": [{"filter": "datum.p == 3"}], "mark": {"type": "line", "interpolate": "catmull-rom", "color": "#111", "strokeWidth": 2.5, "clip": true},
   "encoding": {"x": {"field": "d", "type": "quantitative", "scale": {"domain": [0, 14], "nice": false, "zero": false}, "axis": {"values": [1,2,3,4,5,6,7,8,9,10,11,12,13], "grid": true, "gridColor": "#111", "gridWidth": 2, "labels": false, "ticks": false, "domain": false, "title": null}},
    "y": {"field": "v", "type": "quantitative", "scale": {"domain": [0, 1], "nice": false, "zero": false}, "axis": null}}},
  {"data": {"values": [{"t": "Basal\nvacuolation"}]}, "mark": {"type": "text", "align": "left", "baseline": "alphabetic", "lineBreak": "\n", "lineHeight": 39, "fontSize": 32, "dx": 9, "color": "#222"}, "encoding": {"x": {"datum": 14, "type": "quantitative", "axis": null}, "y": {"datum": 0.65, "type": "quantitative", "axis": null}, "text": {"field": "t"}}}
 ],
 "resolve": {"axis": {"x": "independent"}}},
{"width": 584, "height": 166, "view": {"stroke": "#111", "strokeWidth": 3.5},
 "layer": [
  {"data": {"name": "noyes"}, "transform": [{"filter": "datum.p == 4"}], "mark": {"type": "line", "interpolate": "catmull-rom", "color": "#111", "strokeWidth": 2.5, "clip": true},
   "encoding": {"x": {"field": "d", "type": "quantitative", "scale": {"domain": [0, 14], "nice": false, "zero": false}, "axis": {"values": [1,2,3,4,5,6,7,8,9,10,11,12,13], "grid": true, "gridColor": "#111", "gridWidth": 2, "labels": false, "ticks": false, "domain": false, "title": null}},
    "y": {"field": "v", "type": "quantitative", "scale": {"domain": [0, 1], "nice": false, "zero": false}, "axis": null}}},
  {"data": {"values": [{"t": "Secretion"}]}, "mark": {"type": "text", "align": "left", "baseline": "alphabetic", "lineBreak": "\n", "lineHeight": 39, "fontSize": 32, "dx": 9, "color": "#222"}, "encoding": {"x": {"datum": 14, "type": "quantitative", "axis": null}, "y": {"datum": 0.64, "type": "quantitative", "axis": null}, "text": {"field": "t"}}}
 ],
 "resolve": {"axis": {"x": "independent"}}},
{"width": 584, "height": 166, "view": {"stroke": "#111", "strokeWidth": 3.5},
 "layer": [
  {"data": {"name": "noyes"}, "transform": [{"filter": "datum.p == 5"}], "mark": {"type": "line", "interpolate": "catmull-rom", "color": "#111", "strokeWidth": 2.5, "clip": true},
   "encoding": {"x": {"field": "d", "type": "quantitative", "scale": {"domain": [0, 14], "nice": false, "zero": false}, "axis": {"values": [1,2,3,4,5,6,7,8,9,10,11,12,13], "grid": true, "gridColor": "#111", "gridWidth": 2, "labels": false, "ticks": false, "domain": false, "title": null}},
    "y": {"field": "v", "type": "quantitative", "scale": {"domain": [0, 1], "nice": false, "zero": false}, "axis": null}}},
  {"data": {"values": [{"t": "Stromal\nedema"}]}, "mark": {"type": "text", "align": "left", "baseline": "alphabetic", "lineBreak": "\n", "lineHeight": 39, "fontSize": 32, "dx": 9, "color": "#222"}, "encoding": {"x": {"datum": 14, "type": "quantitative", "axis": null}, "y": {"datum": 0.64, "type": "quantitative", "axis": null}, "text": {"field": "t"}}}
 ],
 "resolve": {"axis": {"x": "independent"}}},
{"width": 584, "height": 166, "view": {"stroke": "#111", "strokeWidth": 3.5},
 "layer": [
  {"data": {"name": "noyes"}, "transform": [{"filter": "datum.p == 6"}], "mark": {"type": "line", "interpolate": "catmull-rom", "color": "#111", "strokeWidth": 2.5, "clip": true},
   "encoding": {"x": {"field": "d", "type": "quantitative", "scale": {"domain": [0, 14], "nice": false, "zero": false}, "axis": {"values": [1,2,3,4,5,6,7,8,9,10,11,12,13], "grid": true, "gridColor": "#111", "gridWidth": 2, "labels": false, "ticks": false, "domain": false, "title": null}},
    "y": {"field": "v", "type": "quantitative", "scale": {"domain": [0, 1], "nice": false, "zero": false}, "axis": null}}},
  {"data": {"values": [{"t": "Pseudo-\ndecidual\nreaction"}]}, "mark": {"type": "text", "align": "left", "baseline": "alphabetic", "lineBreak": "\n", "lineHeight": 39, "fontSize": 32, "dx": 9, "color": "#222"}, "encoding": {"x": {"datum": 14, "type": "quantitative", "axis": null}, "y": {"datum": 0.62, "type": "quantitative", "axis": null}, "text": {"field": "t"}}}
 ],
 "resolve": {"axis": {"x": "independent"}}},
{"width": 584, "height": 166, "view": {"stroke": "#111", "strokeWidth": 3.5},
 "layer": [
  {"data": {"name": "noyes"}, "transform": [{"filter": "datum.p == 7"}], "mark": {"type": "line", "interpolate": "catmull-rom", "color": "#111", "strokeWidth": 2.5, "clip": true},
   "encoding": {"x": {"field": "d", "type": "quantitative", "scale": {"domain": [0, 14], "nice": false, "zero": false}, "axis": {"values": [1,2,3,4,5,6,7,8,9,10,11,12,13], "grid": true, "gridColor": "#111", "gridWidth": 2, "labels": false, "ticks": false, "domain": false, "title": null}},
    "y": {"field": "v", "type": "quantitative", "scale": {"domain": [0, 1], "nice": false, "zero": false}, "axis": null}}},
  {"data": {"values": [{"t": "Stromal\nmitoses"}]}, "mark": {"type": "text", "align": "left", "baseline": "alphabetic", "lineBreak": "\n", "lineHeight": 39, "fontSize": 32, "dx": 9, "color": "#222"}, "encoding": {"x": {"datum": 14, "type": "quantitative", "axis": null}, "y": {"datum": 0.6, "type": "quantitative", "axis": null}, "text": {"field": "t"}}}
 ],
 "resolve": {"axis": {"x": "independent"}}},
{"width": 584, "height": 166, "view": {"stroke": "#111", "strokeWidth": 3.5},
 "layer": [
  {"data": {"name": "noyes"}, "transform": [{"filter": "datum.p == 8"}], "mark": {"type": "line", "interpolate": "catmull-rom", "color": "#111", "strokeWidth": 2.5, "clip": true},
   "encoding": {"x": {"field": "d", "type": "quantitative", "scale": {"domain": [0, 14], "nice": false, "zero": false}, "axis": {"orient": "bottom", "values": [0,1,2,3,4,5,6,7,8,9,10,11,12,13,14], "labelExpr": "'' + datum.value", "grid": true, "gridColor": "#111", "gridWidth": 2, "ticks": true, "tickSize": 22, "tickWidth": 2, "tickColor": "#222", "domain": false, "labelFontSize": 29, "labelPadding": 37, "labelBaseline": "alphabetic", "labelFlush": false, "labelOverlap": false, "labelColor": "#222", "title": "Postovulatory day", "titleFontSize": 31, "titleFontWeight": "normal", "titleColor": "#222", "titleX": 291, "titleY": 109, "titleBaseline": "alphabetic", "titleAlign": "center"}},
    "y": {"field": "v", "type": "quantitative", "scale": {"domain": [0, 1], "nice": false, "zero": false}, "axis": null}}},
  {"data": {"values": [{"t": "Leukocytic\ninfiltration"}]}, "mark": {"type": "text", "align": "left", "baseline": "alphabetic", "lineBreak": "\n", "lineHeight": 39, "fontSize": 32, "dx": 9, "color": "#222"}, "encoding": {"x": {"datum": 14, "type": "quantitative", "axis": null}, "y": {"datum": 0.64, "type": "quantitative", "axis": null}, "text": {"field": "t"}}}
 ],
 "resolve": {"axis": {"x": "independent"}}}
]}
]}
]},
{"width": 4, "height": 1966, "view": {"stroke": null, "fill": "#1f3f7f"}, "data": {"values": [{}]}, "mark": {"type": "text"}, "encoding": {"text": {"value": ""}}}
]}
]}
]
}
